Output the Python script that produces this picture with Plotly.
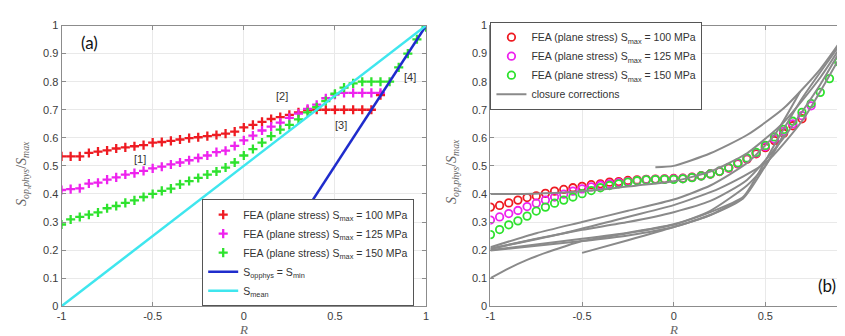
import plotly.graph_objects as go

# ---------------- data: panel (a) ----------------
R_a_red = [-1.0, -0.95, -0.9, -0.85, -0.8, -0.75, -0.7, -0.65, -0.6, -0.55, -0.5, -0.45, -0.4, -0.35, -0.3, -0.25,
           -0.2, -0.15, -0.1, -0.05, 0.0, 0.05, 0.1, 0.15, 0.2, 0.25, 0.3, 0.35, 0.4, 0.45, 0.5, 0.55, 0.6, 0.65, 0.7, 0.75]
S_a_100 = [0.534, 0.534, 0.534, 0.546, 0.551, 0.555, 0.562, 0.566, 0.570, 0.574, 0.583, 0.585, 0.589, 0.594, 0.599, 0.602,
           0.606, 0.610, 0.615, 0.622, 0.637, 0.646, 0.657, 0.667, 0.674, 0.682, 0.691, 0.699, 0.700, 0.700, 0.700, 0.700,
           0.700, 0.700, 0.700, 0.752]
S_a_125 = [0.414, 0.417, 0.420, 0.437, 0.440, 0.451, 0.459, 0.469, 0.474, 0.482, 0.491, 0.497, 0.505, 0.512, 0.520, 0.528,
           0.537, 0.549, 0.554, 0.571, 0.591, 0.608, 0.626, 0.640, 0.654, 0.671, 0.686, 0.703, 0.718, 0.741, 0.754, 0.760,
           0.760, 0.760, 0.760, 0.760]
R_a_green = [-1.0, -0.95, -0.9, -0.85, -0.8, -0.75, -0.7, -0.65, -0.6, -0.55, -0.5, -0.45, -0.4, -0.35, -0.3, -0.25,
             -0.2, -0.15, -0.1, -0.05, 0.0, 0.05, 0.1, 0.15, 0.2, 0.25, 0.3, 0.35, 0.4, 0.45, 0.5, 0.55, 0.6, 0.65, 0.7,
             0.75, 0.8, 0.85, 0.9, 0.95, 1.0]
S_a_150 = [0.291, 0.309, 0.318, 0.326, 0.334, 0.349, 0.357, 0.368, 0.377, 0.389, 0.400, 0.411, 0.419, 0.434, 0.446, 0.457,
           0.469, 0.480, 0.494, 0.512, 0.537, 0.560, 0.583, 0.606, 0.629, 0.646, 0.666, 0.691, 0.709, 0.731, 0.757, 0.779,
           0.794, 0.800, 0.800, 0.800, 0.800, 0.851, 0.900, 0.951, 0.994]
R_min_line = [0.0, 1.0]
S_min_line = [0.0, 1.0]
R_mean_line = [-1.0, 1.0]
S_mean_line = [0.0, 1.0]

# ---------------- data: panel (b) ----------------
R_b_100 = [-1.0, -0.95, -0.9, -0.85, -0.8, -0.75, -0.7, -0.65, -0.6, -0.55, -0.5, -0.45, -0.4, -0.35, -0.3, -0.25,
           -0.2, -0.15, -0.1, -0.05, 0.0, 0.05, 0.1, 0.15, 0.2, 0.25, 0.3, 0.35, 0.4, 0.45, 0.5, 0.55, 0.6, 0.65, 0.7]
S_b_100 = [0.353, 0.359, 0.368, 0.378, 0.387, 0.393, 0.402, 0.410, 0.416, 0.422, 0.427, 0.433, 0.436, 0.442, 0.444, 0.448,
           0.450, 0.452, 0.453, 0.454, 0.455, 0.456, 0.460, 0.465, 0.471, 0.480, 0.492, 0.507, 0.524, 0.543, 0.565, 0.590,
           0.616, 0.643, 0.668]
R_b_125 = [-1.0, -0.95, -0.9, -0.85, -0.8, -0.75, -0.7, -0.65, -0.6, -0.55, -0.5, -0.45, -0.4, -0.35, -0.3, -0.25,
           -0.2, -0.15, -0.1, -0.05, 0.0, 0.05, 0.1, 0.15, 0.2, 0.25, 0.3, 0.35, 0.4, 0.45, 0.5, 0.55, 0.6, 0.65, 0.7, 0.75]
S_b_125 = [0.307, 0.318, 0.330, 0.341, 0.355, 0.367, 0.378, 0.389, 0.399, 0.410, 0.418, 0.425, 0.431, 0.436, 0.440, 0.444,
           0.448, 0.451, 0.452, 0.453, 0.454, 0.455, 0.459, 0.464, 0.471, 0.481, 0.493, 0.509, 0.526, 0.546, 0.569, 0.596,
           0.623, 0.650, 0.679, 0.714]
R_b_150 = [-1.0, -0.95, -0.9, -0.85, -0.8, -0.75, -0.7, -0.65, -0.6, -0.55, -0.5, -0.45, -0.4, -0.35, -0.3, -0.25,
           -0.2, -0.15, -0.1, -0.05, 0.0, 0.05, 0.1, 0.15, 0.2, 0.25, 0.3, 0.35, 0.4, 0.45, 0.5, 0.55, 0.6, 0.65, 0.7,
           0.75, 0.8, 0.85, 0.9, 0.95, 1.0]
S_b_150 = [0.255, 0.273, 0.290, 0.304, 0.321, 0.339, 0.353, 0.367, 0.378, 0.389, 0.401, 0.412, 0.422, 0.430, 0.436, 0.442,
           0.447, 0.450, 0.451, 0.452, 0.452, 0.454, 0.458, 0.464, 0.471, 0.481, 0.494, 0.511, 0.528, 0.548, 0.573, 0.603,
           0.630, 0.659, 0.691, 0.722, 0.762, 0.811, 0.871, 0.935, 1.000]

# closure-correction curves
closure_R = [
    [-1.0, -0.82, -0.6, -0.4, -0.2, 0.0, 0.2, 0.4, 0.6, 0.8, 0.97],
    [-0.1, 0.0, 0.2, 0.4, 0.6, 0.8, 0.97],
    [-1.0, -0.75, -0.5, -0.25, 0.0, 0.2, 0.4, 0.55, 0.69],
    [-1.0, -0.75, -0.5, -0.25, 0.0, 0.2, 0.4, 0.6, 0.8, 0.97],
    [-1.0, -0.5, -0.25, 0.0, 0.2, 0.38, 0.45, 0.55, 0.7, 0.85, 0.97],
    [-1.0, -0.5, -0.25, 0.0, 0.2, 0.38, 0.5, 0.6],
    [-1.0, -0.9, -0.8, -0.7, -0.6, -0.5, -0.25, 0.0, 0.2, 0.4, 0.5, 0.6],
    [-0.5, -0.25, 0.0, 0.2, 0.38],
    [-1.0, -0.6, -0.3, 0.0, 0.25, 0.5, 0.7, 0.9, 0.97],
]
closure_S = [
    [0.400, 0.400, 0.405, 0.415, 0.430, 0.445, 0.480, 0.545, 0.655, 0.815, 0.985],
    [0.495, 0.500, 0.545, 0.610, 0.705, 0.845, 1.000],
    [0.210, 0.260, 0.300, 0.340, 0.380, 0.430, 0.510, 0.610, 0.765],
    [0.205, 0.240, 0.272, 0.300, 0.335, 0.375, 0.450, 0.600, 0.790, 0.980],
    [0.200, 0.240, 0.262, 0.292, 0.335, 0.390, 0.460, 0.575, 0.740, 0.880, 0.990],
    [0.198, 0.232, 0.252, 0.282, 0.325, 0.385, 0.500, 0.610],
    [0.100, 0.135, 0.165, 0.190, 0.212, 0.232, 0.260, 0.290, 0.340, 0.430, 0.500, 0.610],
    [0.190, 0.235, 0.282, 0.325, 0.385],
    [0.205, 0.260, 0.310, 0.360, 0.420, 0.510, 0.660, 0.880, 0.970],
]

RED = "#ee1b22"
MAG = "#ee22ee"
GRN = "#2ee22e"
BLUE = "#1f2ccc"
CYAN = "#3fe6ee"
GRAY = "#8a8a8a"

fig = go.Figure()


def cross(col):
    return dict(symbol="cross-thin", size=6.5, color=col, line=dict(width=2.3, color=col))


fig.add_trace(go.Scatter(x=R_a_red, y=S_a_100, mode="markers", name="FEA (plane stress) S<sub>max</sub> = 100 MPa",
                         marker=cross(RED), legend="legend"))
fig.add_trace(go.Scatter(x=R_a_red, y=S_a_125, mode="markers", name="FEA (plane stress) S<sub>max</sub> = 125 MPa",
                         marker=cross(MAG), legend="legend"))
fig.add_trace(go.Scatter(x=R_a_green, y=S_a_150, mode="markers", name="FEA (plane stress) S<sub>max</sub> = 150 MPa",
                         marker=cross(GRN), legend="legend"))
fig.add_trace(go.Scatter(x=R_min_line, y=S_min_line, mode="lines", name="S<sub>opphys</sub> = S<sub>min</sub>",
                         line=dict(color=BLUE, width=2.5), legend="legend"))
fig.add_trace(go.Scatter(x=R_mean_line, y=S_mean_line, mode="lines", name="S<sub>mean</sub>",
                         line=dict(color=CYAN, width=2.5), legend="legend"))

for Rv, Sv, col, lab in [(R_b_100, S_b_100, RED, "100"), (R_b_125, S_b_125, MAG, "125"), (R_b_150, S_b_150, GRN, "150")]:
    fig.add_trace(go.Scatter(x=Rv, y=Sv, mode="markers", xaxis="x2", yaxis="y2",
                             name=f"FEA (plane stress) S<sub>max</sub> = {lab} MPa",
                             marker=dict(symbol="circle-open", size=7.5, color=col, line=dict(width=1.8, color=col)),
                             legend="legend2"))
for i, (Rv, Sv) in enumerate(zip(closure_R, closure_S)):
    fig.add_trace(go.Scatter(x=Rv, y=Sv, mode="lines", xaxis="x2", yaxis="y2", name="closure corrections",
                             line=dict(color=GRAY, width=2, shape="spline", smoothing=0.6),
                             showlegend=(i == 0), legend="legend2", legendgroup="cc"))

W, H = 845, 336
ydom = [(336 - 303) / H, (336 - 12) / H]
axis_common = dict(showgrid=True, gridcolor="#e9e9e9", gridwidth=1, zeroline=False, showline=True,
                   linecolor="#8c8c8c", linewidth=1, mirror="ticks", ticks="inside", ticklen=4, tickcolor="#8c8c8c",
                   tickfont=dict(family="Liberation Sans", size=11, color="#3c3c3c"))
ticks_y = [0, 0.1, 0.2, 0.3, 0.4, 0.5, 0.6, 0.7, 0.8, 0.9, 1]
ticks_x = [-1, -0.5, 0, 0.5, 1]
ytext = ["0", "0.1", "0.2", "0.3", "0.4", "0.5", "0.6", "0.7", "0.8", "0.9", "1"]
xtext = ["-1", "-0.5", "0", "0.5", "1"]

legend_font = dict(family="Liberation Sans", size=10.5, color="#333333")
fig.update_layout(
    width=W, height=H, margin=dict(l=0, r=0, t=0, b=0),
    paper_bgcolor="white", plot_bgcolor="white",
    xaxis=dict(domain=[49 / W, 417 / W], range=[-1, 1], anchor="y", tickvals=ticks_x, ticktext=xtext, **axis_common),
    yaxis=dict(domain=ydom, range=[0, 1], anchor="x", tickvals=ticks_y, ticktext=ytext, **axis_common),
    xaxis2=dict(domain=[482 / W, 1.0], range=[-1, 0.962], anchor="y2", tickvals=ticks_x, ticktext=xtext,
                **axis_common),
    yaxis2=dict(domain=ydom, range=[0, 1], anchor="x2", tickvals=ticks_y, ticktext=ytext, **axis_common),
    legend=dict(x=191 / W, y=(336 - 192) / H, xanchor="left", yanchor="top", bgcolor="white",
                bordercolor="#555555", borderwidth=1, font=legend_font, tracegroupgap=0, itemwidth=30),
    legend2=dict(x=482 / W, y=(336 - 8) / H, xanchor="left", yanchor="top", bgcolor="white",
                 bordercolor="#555555", borderwidth=1, font=legend_font, tracegroupgap=0, itemwidth=30),
    showlegend=True,
)

ylab = "<i>S</i><sub><i>op,phys</i></sub>/<i>S</i><sub><i>max</i></sub>"
ann_font = dict(family="Liberation Serif", size=14, color="#666666")
r_font = dict(family="Liberation Serif", size=13, color="#666666")
lab_font = dict(family="Liberation Sans", size=11, color="#333333")
annotations = [
    dict(text=ylab, x=9 / W, y=(336 - 165) / H, textangle=-90, font=ann_font),
    dict(text=ylab, x=443 / W, y=(336 - 163) / H, textangle=-90, font=ann_font),
    dict(text="<i>R</i>", x=233 / W, y=0, yanchor="bottom", font=r_font),
    dict(text="<i>R</i>", x=667 / W, y=0, yanchor="bottom", font=r_font),
    dict(text="(a)", x=77 / W, y=(336 - 30) / H, font=dict(family="Lato", size=17, color="#111111")),
    dict(text="(b)", x=822 / W, y=(336 - 282) / H, font=dict(family="Lato", size=17, color="#111111")),
    dict(text="[1]", x=128 / W, y=(336 - 150) / H, font=lab_font),
    dict(text="[2]", x=272 / W, y=(336 - 85) / H, font=lab_font),
    dict(text="[3]", x=331 / W, y=(336 - 115) / H, font=lab_font),
    dict(text="[4]", x=401 / W, y=(336 - 65) / H, font=lab_font),
]
for a in annotations:
    a.setdefault("yanchor", "middle")
    a.update(xref="paper", yref="paper", showarrow=False, xanchor="center", borderpad=0)
fig.update_layout(annotations=annotations)

fig.write_html("out.html")
